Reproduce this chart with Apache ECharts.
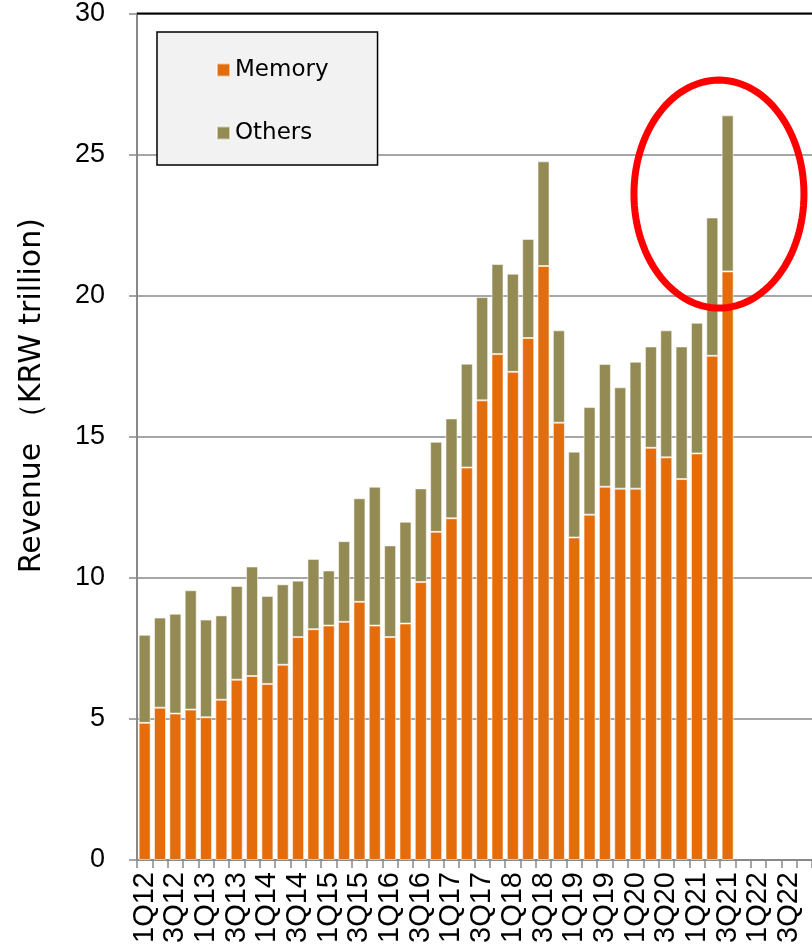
<!DOCTYPE html>
<html>
<head>
<meta charset="utf-8">
<script src="https://cdn.jsdelivr.net/npm/echarts@6/dist/echarts.min.js"></script>
<style>
  html, body { margin: 0; padding: 0; background: #fff; }
  #chart { width: 812px; height: 949px; }
</style>
</head>
<body>
<div id="chart"></div>
<script>
// Quarterly revenue split, KRW trillion
const quarters = [
  '1Q12','2Q12','3Q12','4Q12','1Q13','2Q13','3Q13','4Q13',
  '1Q14','2Q14','3Q14','4Q14','1Q15','2Q15','3Q15','4Q15',
  '1Q16','2Q16','3Q16','4Q16','1Q17','2Q17','3Q17','4Q17',
  '1Q18','2Q18','3Q18','4Q18','1Q19','2Q19','3Q19','4Q19',
  '1Q20','2Q20','3Q20','4Q20','1Q21','2Q21','3Q21','4Q21',
  '1Q22','2Q22','3Q22','4Q22'
];

const memory = [
  4.86, 5.40, 5.19, 5.33, 5.06, 5.68, 6.39, 6.52,
  6.24, 6.92, 7.90, 8.18, 8.31, 8.44, 9.15, 8.31,
  7.90, 8.38, 9.85, 11.63, 12.11, 13.91, 16.29, 17.93,
  17.30, 18.50, 21.05, 15.50, 11.43, 12.24, 13.23, 13.16,
  13.16, 14.61, 14.27, 13.50, 14.41, 17.87, 20.86
];

const others = [
  3.12, 3.19, 3.54, 4.23, 3.46, 2.99, 3.32, 3.88,
  3.12, 2.85, 2.00, 2.49, 1.95, 2.86, 3.67, 4.92,
  3.25, 3.61, 3.32, 3.19, 3.54, 3.68, 3.66, 3.19,
  3.48, 3.51, 3.71, 3.27, 3.04, 3.81, 4.35, 3.59,
  4.50, 3.59, 4.50, 4.70, 4.63, 4.90, 5.53
];

const yTicks = { min: 0, max: 30, interval: 5 };

const MEMORY_COLOR = '#e46c0a';
const OTHERS_COLOR = '#948a54';
const GRID_GRAY = '#898989';

const chart = echarts.init(document.getElementById('chart'));

const barStyle = (color) => ({
  color: color,
  borderColor: 'rgba(255,255,255,0.55)',
  borderWidth: 1
});

chart.setOption({
  animation: false,
  backgroundColor: '#ffffff',
  grid: { left: 137, top: 12, width: 679, bottom: 89, containLabel: false },
  legend: {
    orient: 'vertical',
    left: 157,
    top: 32,
    padding: [25, 49, 19, 59],
    itemGap: 37,
    itemWidth: 13,
    itemHeight: 13,
    icon: 'rect',
    backgroundColor: '#f2f2f2',
    borderColor: '#000',
    borderWidth: 1.5,
    textStyle: { fontFamily: 'DejaVu Sans', fontSize: 23, color: '#000', lineHeight: 26 },
    data: ['Memory', 'Others']
  },
  xAxis: {
    type: 'category',
    data: quarters,
    boundaryGap: true,
    axisLine: { show: true, lineStyle: { color: GRID_GRAY, width: 2 } },
    axisTick: { show: true, interval: 0, length: 8, lineStyle: { color: GRID_GRAY, width: 1.5 } },
    axisLabel: {
      interval: 1,
      rotate: 90,
      margin: 12,
      fontFamily: 'Liberation Sans',
      fontSize: 29,
      color: '#000'
    }
  },
  yAxis: {
    type: 'value',
    min: yTicks.min,
    max: yTicks.max,
    interval: yTicks.interval,
    name: 'Revenue （KRW trillion)',
    nameLocation: 'middle',
    nameGap: 90,
    nameRotate: 90,
    nameTextStyle: {
      fontFamily: 'DejaVu Sans',
      fontSize: 30,
      color: '#000',
      padding: [0, 0, 0, 82]
    },
    axisLine: { show: true, lineStyle: { color: GRID_GRAY, width: 2 } },
    axisTick: { show: true, length: 8, lineStyle: { color: GRID_GRAY, width: 1.5 } },
    axisLabel: { margin: 32, fontFamily: 'Liberation Sans', fontSize: 27, color: '#000' },
    splitLine: { show: true, lineStyle: { color: GRID_GRAY, width: 1.5 } }
  },
  series: [
    {
      name: 'Memory',
      type: 'bar',
      stack: 'rev',
      barWidth: 12,
      itemStyle: barStyle(MEMORY_COLOR),
      data: memory
    },
    {
      name: 'Others',
      type: 'bar',
      stack: 'rev',
      barWidth: 12,
      itemStyle: barStyle(OTHERS_COLOR),
      data: others
    }
  ]
});

// Frame line along the top of the plot and the highlight ring around the latest quarters
const topY = chart.convertToPixel({ yAxisIndex: 0 }, yTicks.max);
const x0 = chart.convertToPixel({ xAxisIndex: 0 }, 0);
const x1 = chart.convertToPixel({ xAxisIndex: 0 }, 1);
const band = x1 - x0;
const leftX = x0 - band / 2;
const ringCx = (chart.convertToPixel({ xAxisIndex: 0 }, 37) + chart.convertToPixel({ xAxisIndex: 0 }, 38)) / 2 - 1;
const ringCy = chart.convertToPixel({ yAxisIndex: 0 }, 23.6);
const ringRx = 85, ringRy = 114;
const ringPts = [];
for (let i = 0; i < 120; i++) {
  const a = (i / 120) * Math.PI * 2;
  ringPts.push([ringCx + ringRx * Math.cos(a), ringCy + ringRy * Math.sin(a)]);
}

chart.setOption({
  graphic: [
    {
      type: 'line',
      shape: { x1: leftX, y1: topY, x2: 812, y2: topY },
      style: { stroke: '#000', lineWidth: 2 },
      z: 10
    },
    {
      type: 'polygon',
      shape: { points: ringPts },
      style: { fill: 'none', stroke: '#ff0000', lineWidth: 7 },
      z: 20
    }
  ]
});
</script>
</body>
</html>
